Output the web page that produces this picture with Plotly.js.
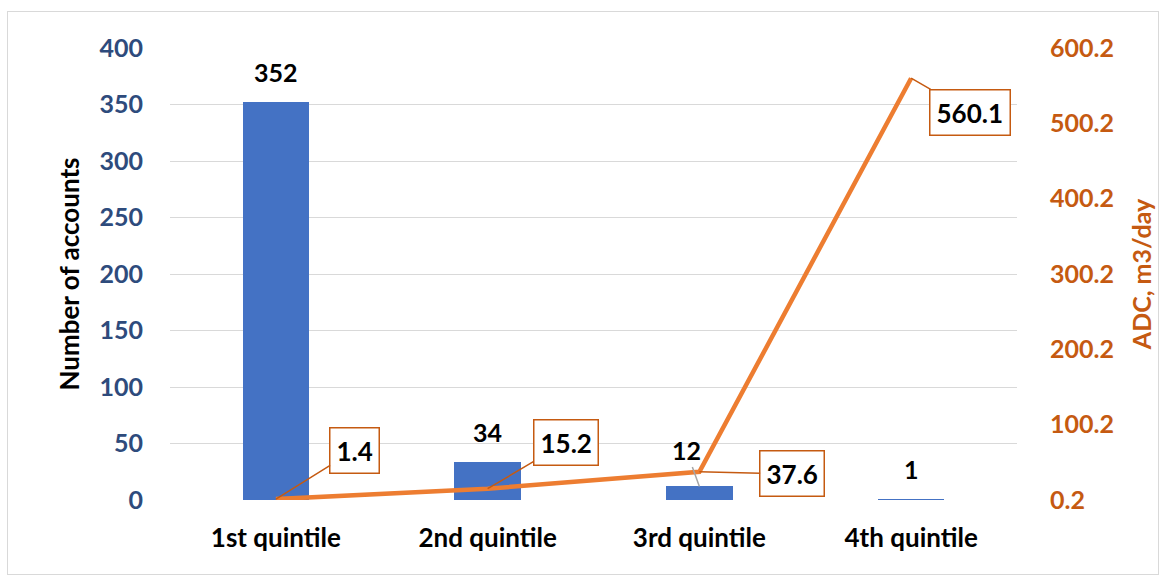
<!DOCTYPE html>
<html>
<head>
<meta charset="utf-8">
<script src="https://cdn.plot.ly/plotly-3.0.1.min.js"></script>
<style>
  html, body { margin: 0; padding: 0; background: #ffffff; }
  #wrap { position: relative; width: 1168px; height: 582px; }
  #frame { position: absolute; left: 7px; top: 11px; width: 1152px; height: 564px;
           border: 1px solid #d9d9d9; box-sizing: border-box; pointer-events: none; }
  #chart { position: absolute; left: 0; top: 0; width: 1168px; height: 582px; }
</style>
</head>
<body>
<div id="wrap">
  <div id="chart"></div>
  <div id="frame"></div>
</div>
<script>
// Quintile groups
const categories = ['1st quintile', '2nd quintile', '3rd quintile', '4th quintile'];
// Number of accounts per quintile (left axis)
const accounts = [352, 34, 12, 1];
// Average daily consumption, m3/day (right axis)
const adc = [1.4, 15.2, 37.6, 560.1];
// Right axis ticks
const adcTicks = [0.2, 100.2, 200.2, 300.2, 400.2, 500.2, 600.2];
const adcTickText = ['0.2', '100.2', '200.2', '300.2', '400.2', '500.2', '600.2'];

const FONT = 'Lato, "Open Sans", "DejaVu Sans", sans-serif';
const BLUE = '#4472C4';
const ORANGE = '#ED7D31';
const ORANGE_DARK = '#C55A11';
const NAVY = '#2E4B7C';

const bars = {
  type: 'bar',
  x: categories,
  y: accounts,
  marker: { color: BLUE },
  width: 0.315,
  hoverinfo: 'skip',
  yaxis: 'y'
};

const line = {
  type: 'scatter',
  mode: 'lines',
  x: categories,
  y: adc,
  line: { color: ORANGE, width: 4.5 },
  hoverinfo: 'skip',
  yaxis: 'y2'
};

// Value labels above the bars; the 3rd one sits to the left with a leader line
const barLabelOffsets = [null, null, { ax: -13, ay: -36 }, null];
const annotations = [];
accounts.forEach((v, i) => {
  const off = barLabelOffsets[i];
  const font = { family: FONT, size: 25, color: '#000000', weight: 'bold' };
  if (off) {
    annotations.push({
      x: categories[i], y: v, xref: 'x', yref: 'y',
      text: String(v), showarrow: true, arrowhead: 0,
      arrowcolor: '#a6a6a6', arrowwidth: 1.5,
      ax: off.ax, ay: off.ay, font: font
    });
  } else {
    annotations.push({
      x: categories[i], y: v, xref: 'x', yref: 'y',
      text: String(v), showarrow: false,
      yanchor: 'bottom', yshift: 13, font: font
    });
  }
});

// Boxed callouts for the consumption line
const calloutOffsets = [
  { ax: 79, ay: -49 },
  { ax: 78, ay: -46 },
  { ax: 93, ay: 2 },
  { ax: 59, ay: 34 }
];
adc.forEach((v, i) => {
  annotations.push({
    x: categories[i], y: v, xref: 'x', yref: 'y2',
    text: String(v), showarrow: true, arrowhead: 0,
    arrowcolor: ORANGE_DARK, arrowwidth: 1.5,
    ax: calloutOffsets[i].ax, ay: calloutOffsets[i].ay,
    bgcolor: '#ffffff', bordercolor: ORANGE_DARK, borderwidth: 1.5, borderpad: 6,
    font: { family: FONT, size: 26, color: '#000000', weight: 'bold' }
  });
});

const layout = {
  width: 1168,
  height: 582,
  margin: { l: 170, r: 151, t: 48, b: 82 },
  paper_bgcolor: '#ffffff',
  plot_bgcolor: '#ffffff',
  showlegend: false,
  bargap: 0,
  xaxis: {
    type: 'category',
    range: [-0.5, 3.5],
    showgrid: false,
    showline: false,
    zeroline: false,
    ticks: '',
    ticklabelstandoff: 20,
    tickfont: { family: FONT, size: 26, color: '#000000', weight: 'bold' },
    fixedrange: true
  },
  yaxis: {
    range: [0, 400],
    dtick: 50,
    tick0: 0,
    showgrid: true,
    gridcolor: '#d9d9d9',
    gridwidth: 1,
    zeroline: false,
    showline: false,
    ticks: '',
    ticklabelstandoff: 26,
    tickfont: { family: FONT, size: 25, color: NAVY, weight: 'bold' },
    title: {
      text: 'Number of accounts',
      standoff: 12,
      font: { family: FONT, size: 26, color: '#000000', weight: 'bold' }
    },
    fixedrange: true
  },
  yaxis2: {
    overlaying: 'y',
    side: 'right',
    range: [0.2, 600.2],
    tickvals: adcTicks,
    ticktext: adcTickText,
    showgrid: false,
    zeroline: false,
    showline: false,
    ticks: '',
    ticklabelstandoff: 32,
    tickfont: { family: FONT, size: 25, color: ORANGE_DARK, weight: 'bold' },
    title: {
      text: 'ADC, m3/day',
      standoff: 20,
      font: { family: FONT, size: 25, color: ORANGE_DARK, weight: 'bold' }
    },
    fixedrange: true
  },
  annotations: annotations
};

Plotly.newPlot('chart', [bars, line], layout, { displayModeBar: false, staticPlot: true });
</script>
</body>
</html>
